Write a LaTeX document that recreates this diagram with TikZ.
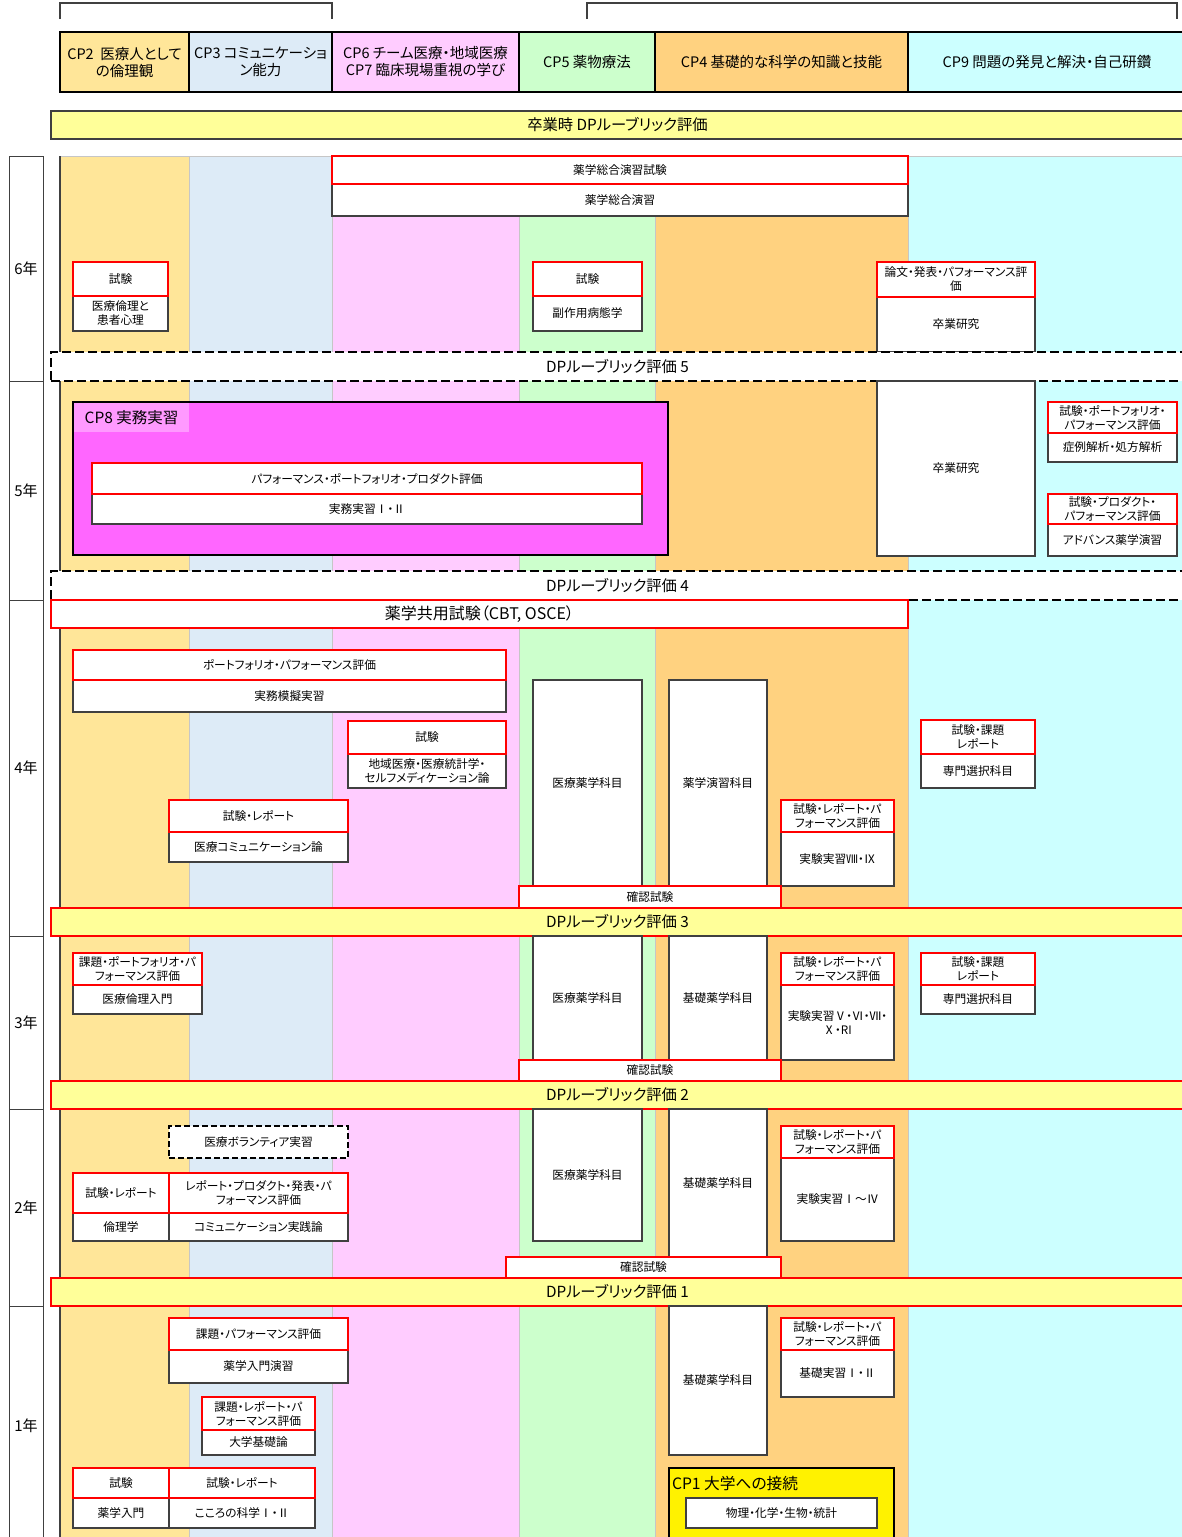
\documentclass[tikz,border=0pt]{standalone}
\usepackage{fontspec}
\setmainfont{Noto Sans CJK JP}[RawFeature={+palt}]
\newfontfamily\fw{Noto Sans CJK JP}
\newcommand\rn[1]{{\fw #1}}
\definecolor{cpA}{HTML}{FFE699}
\definecolor{cpB}{HTML}{DDEBF7}
\definecolor{cpC}{HTML}{FFCCFF}
\definecolor{cpD}{HTML}{CCFFCC}
\definecolor{cpE}{HTML}{FFD280}
\definecolor{cpF}{HTML}{CCFFFF}
\definecolor{dpy}{HTML}{FFFF99}
\definecolor{cpmag}{HTML}{FF66FF}
\definecolor{cptab}{HTML}{FF99FF}
\definecolor{edge}{HTML}{404040}
\newcommand\bx[7]{\node[#2, minimum width={(#5-#3)*1pt}, minimum height={(#6-#4)*1pt}] (#1) at ({(#3+#5)/2},{(#4+#6)/2}) {#7};}
\tikzset{
  base/.style={inner sep=0pt, outer sep=0pt, align=center},
  small/.style={font=\fontsize{11.7}{14}\selectfont},
  wbox/.style={base, small, draw=edge, line width=1.2pt, fill=white},
  rbox/.style={base, small, draw=red, line width=2pt, fill=white},
  dbox/.style={base, small, draw=black, line width=1.6pt, dash pattern=on 6pt off 3pt, fill=white},
  hdr/.style={base, draw=black, line width=1.6pt, font=\fontsize{14.5}{17}\selectfont},
  yearbox/.style={base, draw=edge, line width=1pt, fill=white, font=\fontsize{15}{17}\selectfont},
  dpbar/.style={base, draw=red, line width=2pt, fill=dpy, font=\fontsize{15.3}{17}\selectfont},
  dpdash/.style={base, draw=black, line width=2pt, dash pattern=on 9pt off 4pt, fill=white, font=\fontsize{15.3}{17}\selectfont},
  gradbar/.style={base, draw=edge, line width=1.6pt, fill=dpy, font=\fontsize{15.3}{17}\selectfont},
  lane/.style={draw=gray!45, line width=0.6pt},
}
\begin{document}
\begin{tikzpicture}[x=1pt,y=-1pt]
\useasboundingbox (0,0) rectangle (1182,1537);
\fill[white] (0,0) rectangle (1182,1537);
% brackets
\draw[line width=1.6pt, edge] (60,19) -- (60,3) -- (332,3) -- (332,19);
\draw[line width=1.6pt, edge] (587,19) -- (587,3) -- (1177,3) -- (1177,19);
% lanes
\filldraw[lane, fill=cpA] (60,156) rectangle (189,1545);
\filldraw[lane, fill=cpB] (189,156) rectangle (332,1545);
\filldraw[lane, fill=cpC] (332,156) rectangle (519,1545);
\filldraw[lane, fill=cpD] (519,156) rectangle (655,1545);
\filldraw[lane, fill=cpE] (655,156) rectangle (908,1545);
\filldraw[lane, fill=cpF] (908,156) rectangle (1190,1545);
\draw[edge, line width=1.2pt] (60,156) -- (60,1545);
% year column
\bx{y6}{yearbox}{9}{156}{43}{381}{6年}
\bx{y5}{yearbox}{9}{381}{43}{600}{5年}
\bx{y4}{yearbox}{9}{600}{43}{936}{4年}
\bx{y3}{yearbox}{9}{936}{43}{1109}{3年}
\bx{y2}{yearbox}{9}{1109}{43}{1306}{2年}
\bx{y1}{yearbox}{9}{1306}{43}{1545}{1年}
% header
\bx{h2}{hdr, fill=cpA}{60}{32}{189}{92}{CP2\ \ 医療人として\\の倫理観}
\bx{h3}{hdr, fill=cpB}{189}{32}{332}{92}{CP3 コミュニケーショ\\ン能力}
\bx{h6}{hdr, fill=cpC}{332}{32}{519}{92}{CP6 チーム医療・地域医療\\CP7 臨床現場重視の学び}
\bx{h5}{hdr, fill=cpD}{519}{32}{655}{92}{CP5 薬物療法}
\bx{h4}{hdr, fill=cpE}{655}{32}{908}{92}{CP4 基礎的な科学の知識と技能}
\bx{h9}{hdr, fill=cpF}{908}{32}{1186}{92}{CP9 問題の発見と解決・自己研鑽}
\bx{grad}{gradbar}{51}{111}{1184}{139}{卒業時 DPルーブリック評価}
% ---------- 6年
\bx{s6a}{wbox}{332}{184}{908}{216}{薬学総合演習}
\bx{r6a}{rbox}{332}{156}{908}{184}{薬学総合演習試験}
\bx{s6b}{wbox}{73}{296}{168}{331}{医療倫理と\\患者心理}
\bx{r6b}{rbox}{73}{262}{168}{296}{試験}
\bx{s6c}{wbox}{533}{296}{642}{331}{副作用病態学}
\bx{r6c}{rbox}{533}{262}{642}{296}{試験}
\bx{s6d}{wbox}{877}{297}{1035}{352}{卒業研究}
\bx{r6d}{rbox}{877}{262}{1035}{297}{論文・発表・パフォーマンス評\\価}
\bx{dp5}{dpdash}{51}{352}{1184}{381}{DPルーブリック評価 5}
% ---------- 5年
\bx{s5a}{wbox}{877}{381}{1035}{556}{卒業研究}
\bx{cp8}{base, draw=black, line width=2pt, fill=cpmag}{73}{402}{668}{555}{}
\bx{cp8t}{base, fill=cptab, font=\fontsize{15.5}{17}\selectfont}{74}{403}{189}{432}{CP8 実務実習}
\bx{s5b}{wbox}{92}{494}{642}{524}{実務実習\rn{Ⅰ}・\rn{Ⅱ}}
\bx{r5b}{rbox}{92}{463}{642}{494}{パフォーマンス・ポートフォリオ・プロダクト評価}
\bx{s5c}{wbox}{1048}{433}{1177}{462}{症例解析・処方解析}
\bx{r5c}{rbox}{1048}{402}{1177}{433}{試験・ポートフォリオ・\\パフォーマンス評価}
\bx{s5d}{wbox}{1048}{524}{1177}{556}{アドバンス薬学演習}
\bx{r5d}{rbox}{1048}{494}{1177}{524}{試験・プロダクト・\\パフォーマンス評価}
\bx{dp4}{dpdash}{51}{571}{1184}{600}{DPルーブリック評価 4}
% ---------- 4年
\bx{cbt}{rbox, font=\fontsize{16}{18}\selectfont}{51}{600}{908}{628}{薬学共用試験（CBT, OSCE）}
\bx{s4a}{wbox}{73}{680}{506}{712}{実務模擬実習}
\bx{r4a}{rbox}{73}{650}{506}{680}{ポートフォリオ・パフォーマンス評価}
\bx{s4b}{wbox}{348}{754}{506}{788}{地域医療・医療統計学・\\セルフメディケーション論}
\bx{r4b}{rbox}{348}{721}{506}{754}{試験}
\bx{s4c}{wbox}{169}{832}{348}{862}{医療コミュニケーション論}
\bx{r4c}{rbox}{169}{800}{348}{832}{試験・レポート}
\bx{s4d}{wbox}{533}{680}{642}{886}{医療薬学科目}
\bx{s4e}{wbox}{669}{680}{767}{886}{薬学演習科目}
\bx{s4f}{wbox}{781}{832}{894}{886}{実験実習Ⅷ・Ⅸ}
\bx{r4f}{rbox}{781}{800}{894}{832}{試験・レポート・パ\\フォーマンス評価}
\bx{s4g}{wbox}{921}{754}{1035}{788}{専門選択科目}
\bx{r4g}{rbox}{921}{720}{1035}{754}{試験・課題\\レポート}
\bx{k4}{rbox}{519}{886}{781}{908}{確認試験}
\bx{dp3}{dpbar}{51}{908}{1184}{936}{DPルーブリック評価 3}
% ---------- 3年
\bx{s3a}{wbox}{73}{985}{202}{1014}{医療倫理入門}
\bx{r3a}{rbox}{73}{953}{202}{985}{課題・ポートフォリオ・パ\\フォーマンス評価}
\bx{s3b}{wbox}{533}{936}{642}{1060}{医療薬学科目}
\bx{s3c}{wbox}{669}{936}{767}{1060}{基礎薬学科目}
\bx{s3d}{wbox}{781}{985}{894}{1060}{実験実習Ⅴ・Ⅵ・Ⅶ・\\Ⅹ・RI}
\bx{r3d}{rbox}{781}{953}{894}{985}{試験・レポート・パ\\フォーマンス評価}
\bx{s3e}{wbox}{921}{985}{1035}{1014}{専門選択科目}
\bx{r3e}{rbox}{921}{953}{1035}{985}{試験・課題\\レポート}
\bx{k3}{rbox}{519}{1060}{781}{1081}{確認試験}
\bx{dp2}{dpbar}{51}{1081}{1184}{1109}{DPルーブリック評価 2}
% ---------- 2年
\bx{v2}{dbox}{169}{1126}{348}{1158}{医療ボランティア実習}
\bx{s2a}{wbox}{73}{1213}{169}{1241}{倫理学}
\bx{r2a}{rbox}{73}{1173}{169}{1213}{試験・レポート}
\bx{s2b}{wbox}{169}{1213}{348}{1241}{コミュニケーション実践論}
\bx{r2b}{rbox}{169}{1173}{348}{1213}{レポート・プロダクト・発表・パ\\フォーマンス評価}
\bx{s2c}{wbox}{533}{1109}{642}{1241}{医療薬学科目}
\bx{s2d}{wbox}{669}{1109}{767}{1257}{基礎薬学科目}
\bx{s2e}{wbox}{781}{1158}{894}{1241}{実験実習\rn{Ⅰ}～Ⅳ}
\bx{r2e}{rbox}{781}{1126}{894}{1158}{試験・レポート・パ\\フォーマンス評価}
\bx{k2}{rbox}{506}{1257}{781}{1278}{確認試験}
\bx{dp1}{dpbar}{51}{1278}{1184}{1306}{DPルーブリック評価 1}
% ---------- 1年
\bx{s1a}{wbox}{169}{1350}{348}{1383}{薬学入門演習}
\bx{r1a}{rbox}{169}{1318}{348}{1350}{課題・パフォーマンス評価}
\bx{s1b}{wbox}{202}{1430}{315}{1455}{大学基礎論}
\bx{r1b}{rbox}{202}{1397}{315}{1430}{課題・レポート・パ\\フォーマンス評価}
\bx{s1c}{wbox}{73}{1498}{169}{1528}{薬学入門}
\bx{r1c}{rbox}{73}{1468}{169}{1498}{試験}
\bx{s1d}{wbox}{169}{1498}{315}{1528}{こころの科学\rn{Ⅰ}・\rn{Ⅱ}}
\bx{r1d}{rbox}{169}{1468}{315}{1498}{試験・レポート}
\bx{s1e}{wbox}{669}{1306}{767}{1455}{基礎薬学科目}
\bx{s1f}{wbox}{781}{1350}{894}{1397}{基礎実習\rn{Ⅰ}・\rn{Ⅱ}}
\bx{r1f}{rbox}{781}{1318}{894}{1350}{試験・レポート・パ\\フォーマンス評価}
\bx{cp1}{base, draw=black, line width=2pt, fill=yellow}{669}{1468}{894}{1550}{}
\node[base, anchor=west, font=\fontsize{15.7}{17}\selectfont] (cp1t) at (672,1483) {CP1 大学への接続};
\bx{s1g}{wbox}{686}{1498}{877}{1528}{物理・化学・生物・統計}
\end{tikzpicture}
\end{document}
